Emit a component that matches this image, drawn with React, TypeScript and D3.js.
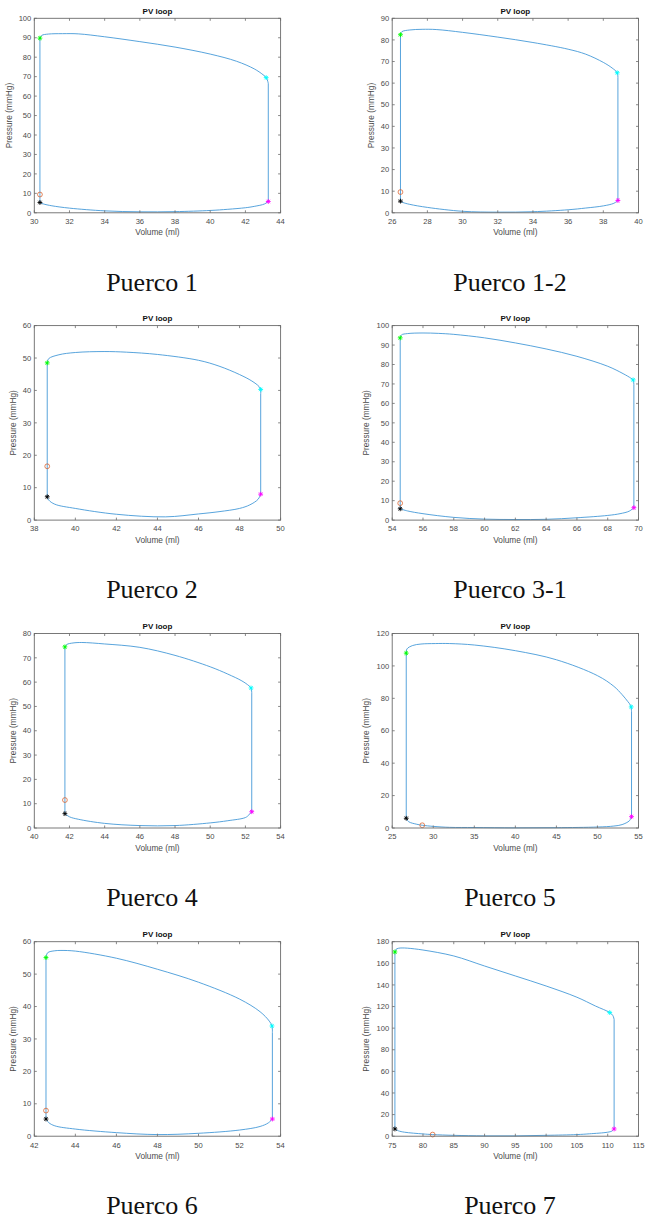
import React from "react";
import * as d3 from "d3";

type Pt = [number, number];

// ---------- data ----------
const captions = ["Puerco 1", "Puerco 1-2", "Puerco 2", "Puerco 3-1", "Puerco 4", "Puerco 5", "Puerco 6", "Puerco 7"];

const xDomains: Pt[] = [[30, 44], [26, 40], [38, 50], [54, 70], [40, 54], [25, 55], [42, 54], [75, 115]];
const yDomains: Pt[] = [[0, 100], [0, 90], [0, 60], [0, 100], [0, 80], [0, 120], [0, 60], [0, 180]];
const xTickSteps = [2, 2, 2, 2, 2, 5, 2, 5];
const yTickSteps = [10, 10, 10, 10, 10, 20, 10, 20];

// upper branch (from left vertical, over the top, down to the right vertical)
const topPuerco1: Pt[] = [[30.32,89.8],[30.42,91.2],[30.8,91.9],[31.6,92.1],[32.5,92],[34,90.5],[36,88],[38,85.2],[40,81.6],[41.5,77.9],[42.5,74],[43.0,71],[43.2,69.3],[43.3,66.5]];
const topPuerco1_2: Pt[] = [[26.47,82.4],[26.55,83.8],[27,84.6],[27.7,84.9],[28.5,84.8],[30,83.5],[32,81.3],[34,78.8],[36,75.7],[37,73.4],[38,69.6],[38.5,67],[38.79,64.8],[38.83,62.5]];
const topPuerco2: Pt[] = [[38.63,48.5],[38.7,49.8],[39.2,51],[40,51.7],[41.4,52],[42.5,51.8],[44,51.1],[46,49.3],[47,47.5],[48,44.9],[48.6,42.9],[48.95,41.2],[49.03,40.3],[49.03,39]];
const topPuerco3_1: Pt[] = [[54.52,93.7],[54.6,95.2],[55,95.9],[56,96.2],[57,96],[58,95.5],[60,93.7],[62,91.1],[64,88],[66,84.2],[68,79.1],[69,75.3],[69.5,73],[69.65,72.1],[69.7,69.5]];
const topPuerco4: Pt[] = [[41.74,74.5],[41.85,75.5],[42.2,76.1],[42.7,76.3],[44,75.7],[46,74.3],[48,71],[50,66.3],[51,63.3],[51.8,60.5],[52.2,58.5],[52.32,57.6],[52.36,55.5]];
const topPuerco5: Pt[] = [[26.71,107.9],[26.8,110.5],[27.5,112.6],[28.5,113.5],[30.25,113.8],[32,113.8],[35,112.9],[40,109.4],[45,103.8],[50,94],[52,87.4],[53,82.3],[53.7,78],[54.05,75.5],[54.15,72]];
const topPuerco6: Pt[] = [[42.57,55.1],[42.65,56.6],[43,57.2],[43.3,57.3],[44,57.1],[46,54.9],[48,51.5],[50,47.5],[52,42.3],[53,38.4],[53.45,35.5],[53.58,34.0],[53.6,32]];
const topPuerco7: Pt[] = [[75.44,170.5],[75.6,172.8],[76,173.9],[76.6,174.2],[77.5,174],[80,172.3],[85,166.8],[90,157.5],[95,148.3],[100,139],[105,128.6],[108,120.5],[110.33,114.4],[110.85,111.5],[111.04,108]];

// lower branch (from the right vertical, along the bottom, back to the left vertical)
const bottomPuerco1: Pt[] = [[43.3,6],[43.1,4.6],[42.5,3.3],[42,2.6],[41,1.8],[40,1.2],[38,0.6],[36,0.5],[34,1.0],[32,2.4],[31,3.6],[30.5,4.6],[30.32,5.3]];
const bottomPuerco1_2: Pt[] = [[38.83,5.7],[38.6,4.4],[38,3.2],[37,2.2],[36,1.4],[34,0.5],[32,0.3],[30,0.7],[28,2.5],[27,3.9],[26.6,4.8],[26.47,5.4]];
const bottomPuerco2: Pt[] = [[49.03,8.0],[48.9,6.4],[48.5,4.7],[48,3.6],[47,2.6],[46,1.9],[44.4,1.0],[42,1.8],[40,3.6],[39,4.9],[38.7,6.2],[38.63,7.2]];
const bottomPuerco3_1: Pt[] = [[69.7,6.4],[69.4,4.6],[68.8,3.3],[68,2.4],[66,1.2],[64,0.4],[62,0.3],[60,0.5],[58,1.4],[56,3.3],[55,4.7],[54.52,5.8]];
const bottomPuerco4: Pt[] = [[52.36,6.7],[52.2,5.4],[52,4.3],[51,3],[50,2.1],[48,1.0],[46,1.0],[44,1.9],[42.5,3.6],[42,4.6],[41.74,5.9]];
const bottomPuerco5: Pt[] = [[54.15,7.0],[53.9,4.5],[53,2.1],[52,1.2],[50,0.6],[45,0.2],[40,0.1],[35,0.3],[32,0.4],[30,1.0],[28.66,1.7],[28,2.3],[27,3.9],[26.71,6.0]];
const bottomPuerco6: Pt[] = [[53.6,5.3],[53.4,4.1],[53,3.0],[52,1.9],[50,0.9],[48,0.5],[46,1.1],[44,2.2],[43,3.2],[42.7,4.2],[42.57,5.3]];
const bottomPuerco7: Pt[] = [[111.04,6.7],[110.7,4.8],[110,3.7],[107,2.2],[105,1.5],[100,0.8],[95,0.3],[90,0.3],[85,0.8],[81.57,1.5],[80,2.1],[77,3.7],[76,5],[75.44,6.7]];

const topArcs: Pt[][] = [topPuerco1, topPuerco1_2, topPuerco2, topPuerco3_1, topPuerco4, topPuerco5, topPuerco6, topPuerco7];
const bottomArcs: Pt[][] = [bottomPuerco1, bottomPuerco1_2, bottomPuerco2, bottomPuerco3_1, bottomPuerco4, bottomPuerco5, bottomPuerco6, bottomPuerco7];

const greenStars: Pt[] = [[30.32,89.8],[26.47,82.4],[38.63,48.5],[54.52,93.7],[41.74,74.5],[26.71,107.9],[42.57,55.1],[75.44,170.5]];
const cyanStars: Pt[] = [[43.18,69.5],[38.79,64.8],[49.03,40.3],[69.65,72.1],[52.32,57.6],[54.11,74.7],[53.58,34.0],[110.33,114.4]];
const magentaStars: Pt[] = [[43.3,5.8],[38.83,5.7],[49.03,8.0],[69.7,6.4],[52.36,6.7],[54.15,7.0],[53.6,5.3],[111.04,6.7]];
const blackStars: Pt[] = [[30.32,5.3],[26.47,5.4],[38.63,7.2],[54.52,5.8],[41.74,5.9],[26.71,6.0],[42.57,5.3],[75.44,6.7]];
const orangeCircles: Pt[] = [[30.32,9.4],[26.47,9.6],[38.63,16.6],[54.52,8.7],[41.74,11.5],[28.66,1.7],[42.57,7.9],[81.57,1.5]];

// ---------- layout ----------
const W = 645, H = 1222;
const colLefts = [34.3, 392.2];
const rowTops = [18.3, 325.6, 633.5, 941.7];
const axW = 246.3, axH = 194.5;
const captionX = [152, 510];
const lineColor = "#3a93d6";
const axisColor = "#6b6b6b";
const textColor = "#4a4a4a";
const sans = "'Liberation Sans', Arial, Helvetica, sans-serif";

function Star({ x, y, color }: { x: number; y: number; color: string }) {
  const s = 2.4, d = 1.7;
  return (
    <g stroke={color} strokeWidth={0.9}>
      <line x1={x - s} y1={y} x2={x + s} y2={y} />
      <line x1={x} y1={y - s} x2={x} y2={y + s} />
      <line x1={x - d} y1={y - d} x2={x + d} y2={y + d} />
      <line x1={x - d} y1={y + d} x2={x + d} y2={y - d} />
    </g>
  );
}

function Panel({ i }: { i: number }) {
  const left = colLefts[i % 2];
  const top = rowTops[Math.floor(i / 2)];
  const x = d3.scaleLinear().domain(xDomains[i]).range([left, left + axW]);
  const y = d3.scaleLinear().domain(yDomains[i]).range([top + axH, top]);
  const xt = d3.range(xDomains[i][0], xDomains[i][1] + 1e-9, xTickSteps[i]);
  const yt = d3.range(yDomains[i][0], yDomains[i][1] + 1e-9, yTickSteps[i]);
  const line = d3.line<Pt>().x((d) => x(d[0])).y((d) => y(d[1])).curve(d3.curveCatmullRom.alpha(0.5));
  const topD = line(topArcs[i]) || "";
  const botD = (line(bottomArcs[i]) || "").replace(/^M/, "L");
  const loopD = topD + botD + "Z";
  const maxChars = d3.max(yt, (v) => String(v).length) || 2;
  const ylabX = left - (10 + maxChars * 4.25);
  const tk = 2.5;
  const bottom = top + axH, right = left + axW;
  return (
    <g>
      <path d={loopD} fill="none" stroke={lineColor} strokeWidth={0.85} strokeLinejoin="round" />
      <circle cx={x(orangeCircles[i][0])} cy={y(orangeCircles[i][1])} r={2.4} fill="none" stroke="#D95319" strokeWidth={0.7} />
      <Star x={x(blackStars[i][0])} y={y(blackStars[i][1])} color="#000" />
      <Star x={x(greenStars[i][0])} y={y(greenStars[i][1])} color="#00FF00" />
      <Star x={x(cyanStars[i][0])} y={y(cyanStars[i][1])} color="#00FFFF" />
      <Star x={x(magentaStars[i][0])} y={y(magentaStars[i][1])} color="#FF00FF" />
      <rect x={left} y={top} width={axW} height={axH} fill="none" stroke={axisColor} strokeWidth={0.9} />
      {xt.map((v) => (
        <g key={"x" + v}>
          <line x1={x(v)} x2={x(v)} y1={bottom} y2={bottom - tk} stroke={axisColor} strokeWidth={0.8} />
          <line x1={x(v)} x2={x(v)} y1={top} y2={top + tk} stroke={axisColor} strokeWidth={0.8} />
          <text x={x(v)} y={bottom + 11.3} textAnchor="middle" fontSize={7.6} fontFamily={sans} fill={textColor}>{v}</text>
        </g>
      ))}
      {yt.map((v) => (
        <g key={"y" + v}>
          <line x1={left} x2={left + tk} y1={y(v)} y2={y(v)} stroke={axisColor} strokeWidth={0.8} />
          <line x1={right} x2={right - tk} y1={y(v)} y2={y(v)} stroke={axisColor} strokeWidth={0.8} />
          <text x={left - 3} y={y(v) + 2.7} textAnchor="end" fontSize={7.6} fontFamily={sans} fill={textColor}>{v}</text>
        </g>
      ))}
      <text x={left + axW / 2} y={top - 4.3} textAnchor="middle" fontSize={8} fontWeight="bold" fontFamily={sans} fill="#111">PV loop</text>
      <text x={left + axW / 2} y={bottom + 22.6} textAnchor="middle" fontSize={8.3} fontFamily={sans} fill={textColor}>Volume (ml)</text>
      <text transform={`translate(${ylabX},${top + axH / 2}) rotate(-90)`} textAnchor="middle" fontSize={8.3} fontFamily={sans} fill={textColor}>Pressure (mmHg)</text>
      <text x={captionX[i % 2]} y={top + 272.4} textAnchor="middle" fontSize={26} fontFamily="'Liberation Serif', 'Times New Roman', serif" fill="#111">{captions[i]}</text>
    </g>
  );
}

export default function App() {
  return (
    <svg width={W} height={H} style={{ position: "absolute", left: 0, top: 0, background: "#fff" }}>
      <rect width={W} height={H} fill="#fff" />
      {captions.map((_, i) => (
        <Panel key={i} i={i} />
      ))}
    </svg>
  );
}
